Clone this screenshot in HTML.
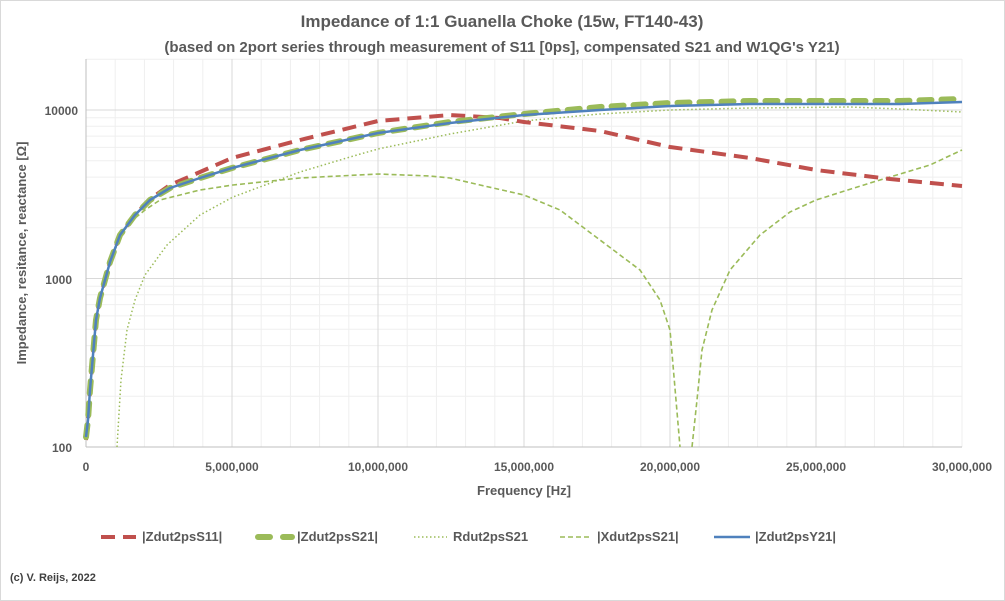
<!DOCTYPE html>
<html><head><meta charset="utf-8"><style>
body{margin:0;background:#fff}
svg{display:block;font-family:"Liberation Sans",Arial,sans-serif}
</style></head><body>
<svg width="1005" height="601" viewBox="0 0 1005 601">
<rect x="0.5" y="0.5" width="1004" height="600" fill="#fff" stroke="#d9d9d9"/>
<text x="502" y="27" text-anchor="middle" font-size="17" font-weight="bold" fill="#595959">Impedance of 1:1 Guanella Choke (15w, FT140-43)</text>
<text x="502" y="52" text-anchor="middle" font-size="15" font-weight="bold" fill="#595959">(based on 2port series through measurement of S11 [0ps], compensated S21 and W1QG's Y21)</text>
<g stroke="#efefef" stroke-width="1">
<line x1="115.2" y1="59" x2="115.2" y2="447"/><line x1="144.4" y1="59" x2="144.4" y2="447"/><line x1="173.6" y1="59" x2="173.6" y2="447"/><line x1="202.8" y1="59" x2="202.8" y2="447"/>
<line x1="261.2" y1="59" x2="261.2" y2="447"/><line x1="290.4" y1="59" x2="290.4" y2="447"/><line x1="319.6" y1="59" x2="319.6" y2="447"/><line x1="348.8" y1="59" x2="348.8" y2="447"/>
<line x1="407.2" y1="59" x2="407.2" y2="447"/><line x1="436.4" y1="59" x2="436.4" y2="447"/><line x1="465.6" y1="59" x2="465.6" y2="447"/><line x1="494.8" y1="59" x2="494.8" y2="447"/>
<line x1="553.2" y1="59" x2="553.2" y2="447"/><line x1="582.4" y1="59" x2="582.4" y2="447"/><line x1="611.6" y1="59" x2="611.6" y2="447"/><line x1="640.8" y1="59" x2="640.8" y2="447"/>
<line x1="699.2" y1="59" x2="699.2" y2="447"/><line x1="728.4" y1="59" x2="728.4" y2="447"/><line x1="757.6" y1="59" x2="757.6" y2="447"/><line x1="786.8" y1="59" x2="786.8" y2="447"/>
<line x1="845.2" y1="59" x2="845.2" y2="447"/><line x1="874.4" y1="59" x2="874.4" y2="447"/><line x1="903.6" y1="59" x2="903.6" y2="447"/><line x1="932.8" y1="59" x2="932.8" y2="447"/>
<line x1="962" y1="59" x2="962" y2="447"/>
<line x1="86" y1="396.3" x2="962" y2="396.3"/><line x1="86" y1="366.6" x2="962" y2="366.6"/><line x1="86" y1="345.6" x2="962" y2="345.6"/><line x1="86" y1="329.2" x2="962" y2="329.2"/><line x1="86" y1="315.9" x2="962" y2="315.9"/><line x1="86" y1="304.6" x2="962" y2="304.6"/><line x1="86" y1="294.8" x2="962" y2="294.8"/><line x1="86" y1="286.3" x2="962" y2="286.3"/>
<line x1="86" y1="227.8" x2="962" y2="227.8"/><line x1="86" y1="198.1" x2="962" y2="198.1"/><line x1="86" y1="177.1" x2="962" y2="177.1"/><line x1="86" y1="160.7" x2="962" y2="160.7"/><line x1="86" y1="147.4" x2="962" y2="147.4"/><line x1="86" y1="136.1" x2="962" y2="136.1"/><line x1="86" y1="126.3" x2="962" y2="126.3"/><line x1="86" y1="117.8" x2="962" y2="117.8"/>
<line x1="86" y1="59.3" x2="962" y2="59.3"/>
</g>
<g stroke="#d9d9d9">
<line x1="232" y1="59" x2="232" y2="447"/><line x1="378" y1="59" x2="378" y2="447"/><line x1="524" y1="59" x2="524" y2="447"/><line x1="670" y1="59" x2="670" y2="447"/><line x1="816" y1="59" x2="816" y2="447"/>
<line x1="86" y1="278.5" x2="962" y2="278.5"/><line x1="86" y1="110" x2="962" y2="110"/>
</g>
<g stroke="#bfbfbf"><line x1="86" y1="59" x2="86" y2="447"/><line x1="86" y1="447" x2="962" y2="447"/></g>
<g font-size="12" font-weight="bold" fill="#595959">
<text x="78" y="115" text-anchor="end">10000</text>
<text x="72" y="284" text-anchor="end">1000</text>
<text x="72" y="452" text-anchor="end">100</text>
<text x="86" y="471" text-anchor="middle">0</text>
<text x="232" y="471" text-anchor="middle">5,000,000</text>
<text x="378" y="471" text-anchor="middle">10,000,000</text>
<text x="524" y="471" text-anchor="middle">15,000,000</text>
<text x="670" y="471" text-anchor="middle">20,000,000</text>
<text x="816" y="471" text-anchor="middle">25,000,000</text>
<text x="962" y="471" text-anchor="middle">30,000,000</text>
<text x="524" y="495" text-anchor="middle" font-size="13">Frequency [Hz]</text>
<text transform="translate(26,253) rotate(-90)" text-anchor="middle" font-size="13">Impedance, resitance, reactance [Ω]</text>
</g>
<g fill="none" stroke-linejoin="round">
<polyline stroke="#9bbb59" stroke-width="1.6" stroke-dasharray="5,3" points="86,440 88,420 90,390 93,355 96,320 100,298 105,280 110,262 115,250 120,237 130,222 145,210 160,200 200,190 233,185 300,178 378,174 430,176 450,178 480,185 524,195 560,210 600,240 640,270 660,300 670,330 676,400 680,447"/>
<polyline stroke="#9bbb59" stroke-width="1.6" stroke-dasharray="5,3" points="692,447 697,400 702,350 712,310 730,270 760,235 790,212 816,200 870,183 930,165 962,150"/>
<polyline stroke="#9bbb59" stroke-width="1.5" stroke-dasharray="1.5,2.5" points="117,447 121,380 127,330 135,300 145,275 167,245 200,215 233,197 300,172 350,157 378,149 450,134 524,121 600,114 670,110 750,108 850,107 900,109 962,112"/>
<polyline stroke="#c0504d" stroke-width="4" stroke-dasharray="14,8" points="86,440 88,420 90,390 93,355 96,320 100,298 105,280 110,262 120,235 135,215 150,199 170,185 200,172 232,158 300,140 378,121 450,115 500,118 524,122 600,131 670,147 750,158 816,170 890,179 962,186"/>
<polyline stroke="#9bbb59" stroke-width="6" stroke-linecap="round" stroke-dasharray="12,10" points="86,437 88,420 90,390 93,355 96,320 100,298 105,280 110,262 120,235 135,215 150,200 170,188 200,178 232,168 300,150 378,133 450,122 524,114 600,107 670,103 750,101 816,101 900,101 962,99"/>
<polyline stroke="#4f81bd" stroke-width="2.5" points="86,437 88,420 90,390 93,355 96,320 100,298 105,280 110,262 120,235 135,215 150,200 170,188 200,178 232,168 300,150 378,133 450,123 524,115 600,110 670,106 750,104 816,104 900,104 962,102"/>
</g>
<g font-size="13" font-weight="bold" fill="#595959">
<line x1="101" y1="537" x2="136" y2="537" stroke="#c0504d" stroke-width="4" stroke-dasharray="14,8"/>
<text x="142" y="541">|Zdut2psS11|</text>
<line x1="258" y1="537" x2="292" y2="537" stroke="#9bbb59" stroke-width="6" stroke-linecap="round" stroke-dasharray="12,13"/>
<text x="297" y="541">|Zdut2psS21|</text>
<line x1="414" y1="537" x2="447" y2="537" stroke="#9bbb59" stroke-width="1.5" stroke-dasharray="1.5,2.5"/>
<text x="453" y="541">Rdut2psS21</text>
<line x1="560" y1="537" x2="592" y2="537" stroke="#9bbb59" stroke-width="1.6" stroke-dasharray="5,3"/>
<text x="597" y="541">|Xdut2psS21|</text>
<line x1="714" y1="537" x2="750" y2="537" stroke="#4f81bd" stroke-width="2.5"/>
<text x="755" y="541">|Zdut2psY21|</text>
<text x="10" y="581" font-size="11" fill="#404040">(c) V. Reijs,  2022</text>
</g>
</svg>
</body></html>
